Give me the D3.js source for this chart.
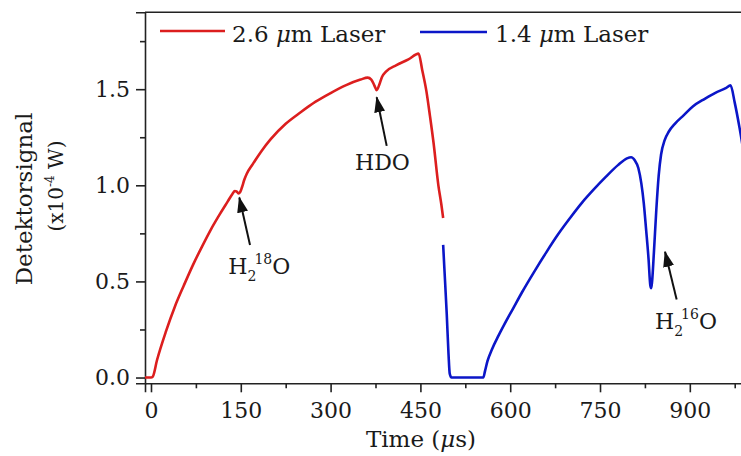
<!DOCTYPE html>
<html>
<head>
<meta charset="utf-8">
<script src="https://cdn.jsdelivr.net/npm/d3@7/dist/d3.min.js"></script>
<style>
  html, body { margin: 0; padding: 0; background: #fff; }
  svg { display: block; }
  text { font-family: "DejaVu Serif", "Liberation Serif", serif; fill: #1a1a1a; }
</style>
</head>
<body>
<svg id="chart" width="741" height="456"></svg>
<script>
// Detector signal of the 2.6 µm laser scan (time in µs, signal in 1e-4 W)
const redTime = [-10, 0, 3, 10, 25, 40, 55, 70, 85, 100, 115, 128, 136, 140, 143, 146, 149, 152, 156, 160, 170, 185, 200, 225, 250, 275, 300, 325, 350, 362, 368, 373, 377, 381, 386, 392, 410, 430, 447, 453, 460, 466, 472, 480, 485, 488];
const redSignal = [0, 0, 0.005, 0.09, 0.24, 0.37, 0.48, 0.585, 0.68, 0.77, 0.85, 0.915, 0.955, 0.97, 0.968, 0.958, 0.965, 0.99, 1.03, 1.06, 1.11, 1.18, 1.24, 1.32, 1.38, 1.435, 1.48, 1.52, 1.55, 1.56, 1.55, 1.52, 1.495, 1.52, 1.565, 1.59, 1.625, 1.655, 1.685, 1.60, 1.49, 1.36, 1.22, 1.00, 0.90, 0.83];

// Detector signal of the 1.4 µm laser scan
const blueTime = [488, 490, 494, 497, 499, 502, 555, 558, 562, 570, 580, 590, 605, 620, 640, 660, 680, 700, 720, 740, 760, 780, 795, 802, 808, 814, 819, 823, 827, 831, 834, 835.5, 837, 840, 844, 848, 852, 858, 865, 875, 890, 905, 925, 945, 960, 968, 975, 983, 990];
const blueSignal = [0.69, 0.57, 0.33, 0.12, 0.02, 0, 0, 0.035, 0.085, 0.15, 0.215, 0.275, 0.36, 0.445, 0.55, 0.65, 0.745, 0.83, 0.91, 0.98, 1.045, 1.105, 1.14, 1.146, 1.13, 1.09, 1.01, 0.91, 0.77, 0.62, 0.48, 0.465, 0.50, 0.65, 0.87, 1.05, 1.16, 1.235, 1.28, 1.32, 1.365, 1.41, 1.45, 1.485, 1.505, 1.52, 1.43, 1.30, 1.17];

// Axis ticks
const xMajorTicks = [0, 150, 300, 450, 600, 750, 900];
const xMinorTicks = [75, 225, 375, 525, 675, 825, 975];
const yMajorTicks = [0, 0.5, 1.0, 1.5];
const yMinorTicks = [0.25, 0.75, 1.25, 1.75];

// Series labels
const seriesNames = ["2.6 μm Laser", "1.4 μm Laser"];

// Absorption line markers: arrow tip, arrow tail, label anchor (time, signal)
const lineNames = ["H2 18O", "HDO", "H2 16O"];
const arrowTip = [[147.5, 0.937], [377, 1.458], [858.6, 0.654]];
const arrowTail = [[165.4, 0.689], [393.7, 1.205], [878, 0.406]];
const labelAt = [[129.2, 0.54], [340.7, 1.08], [841.8, 0.255]];

const RED = "#dc1e1e";
const BLUE = "#0b16c8";
const AXIS = "#222";

const svg = d3.select("#chart");

const plotLeft = 145, plotTop = 12.3, plotBottom = 383.3;
const pxPerUs = 0.5987;
const x = d3.scaleLinear().domain([-10, 1010]).range([plotLeft, plotLeft + 1020 * pxPerUs]);
const y = d3.scaleLinear().domain([-0.03, 1.9]).range([plotBottom, plotTop]);
const plotRight = x(1010);

const defs = svg.append("defs");
defs.append("clipPath").attr("id", "plotClip")
  .append("rect").attr("x", plotLeft).attr("y", plotTop)
  .attr("width", plotRight - plotLeft).attr("height", plotBottom - plotTop);

// frame: top and right borders
svg.append("path")
  .attr("d", `M${plotLeft},${plotTop}H${plotRight}V${plotBottom}`)
  .attr("fill", "none").attr("stroke", AXIS).attr("stroke-width", 1.6);

// x axis
svg.append("g").attr("transform", `translate(0,${plotBottom})`)
  .call(d3.axisBottom(x).tickValues(xMajorTicks).tickSize(9).tickPadding(10).tickFormat(d3.format("d")));
svg.append("g").attr("transform", `translate(0,${plotBottom})`)
  .call(d3.axisBottom(x).tickValues(xMinorTicks).tickSize(5).tickFormat(""))
  .call(g => g.select(".domain").remove());

// y axis
svg.append("g").attr("transform", `translate(${plotLeft},0)`)
  .call(d3.axisLeft(y).tickValues(yMajorTicks).tickSize(9).tickPadding(6).tickFormat(d3.format(".1f")));
svg.append("g").attr("transform", `translate(${plotLeft},0)`)
  .call(d3.axisLeft(y).tickValues(yMinorTicks).tickSize(5).tickFormat(""))
  .call(g => g.select(".domain").remove());

svg.selectAll(".tick line").attr("stroke", AXIS).attr("stroke-width", 1.6);
svg.selectAll(".domain").attr("stroke", AXIS).attr("stroke-width", 1.6);
svg.selectAll(".tick text")
  .attr("font-family", "DejaVu Serif, serif").attr("font-size", 22).attr("fill", "#1a1a1a");

// axis titles
const xt = svg.append("text").attr("x", 421).attr("y", 447)
  .attr("text-anchor", "middle").attr("font-size", 23);
xt.append("tspan").text("Time (");
xt.append("tspan").attr("font-style", "italic").text("μ");
xt.append("tspan").text("s)");

svg.append("text")
  .attr("transform", "translate(32,199) rotate(-90)")
  .attr("text-anchor", "middle").attr("font-size", 23)
  .text("Detektorsignal");
const yt2 = svg.append("text")
  .attr("transform", "translate(63,186) rotate(-90)")
  .attr("text-anchor", "middle").attr("font-size", 20);
yt2.append("tspan").text("(x10");
yt2.append("tspan").attr("font-size", 12).attr("dy", -9).text("-4");
yt2.append("tspan").attr("dy", 9).text(" W)");

// data lines
const line = d3.line().x(d => x(d[0])).y(d => y(d[1])).curve(d3.curveMonotoneX);
const plot = svg.append("g").attr("clip-path", "url(#plotClip)");
plot.append("path")
  .datum(d3.zip(redTime, redSignal))
  .attr("d", line).attr("fill", "none").attr("stroke", RED)
  .attr("stroke-width", 2.6).attr("stroke-linejoin", "round");
plot.append("path")
  .datum(d3.zip(blueTime, blueSignal))
  .attr("d", line).attr("fill", "none").attr("stroke", BLUE)
  .attr("stroke-width", 2.6).attr("stroke-linejoin", "round");

// legend
const legend = [
  { name: seriesNames[0], color: RED, x0: 160, x1: 225, ly: 31, tx: 232 },
  { name: seriesNames[1], color: BLUE, x0: 420, x1: 487, ly: 32, tx: 495 }
];
legend.forEach(l => {
  svg.append("line").attr("x1", l.x0).attr("x2", l.x1).attr("y1", l.ly).attr("y2", l.ly)
    .attr("stroke", l.color).attr("stroke-width", 2.6);
  const t = svg.append("text").attr("x", l.tx).attr("y", 42).attr("font-size", 23);
  const [num, rest] = l.name.split(" μ");
  t.append("tspan").text(num + " ");
  t.append("tspan").attr("font-style", "italic").text("μ");
  t.append("tspan").text(rest);
});

// arrowheads
defs.append("marker")
  .attr("id", "head").attr("viewBox", "0 0 16 11")
  .attr("refX", 15).attr("refY", 5.5)
  .attr("markerUnits", "userSpaceOnUse")
  .attr("markerWidth", 16).attr("markerHeight", 11)
  .attr("orient", "auto")
  .append("path").attr("d", "M0,0L16,5.5L0,11Z").attr("fill", "#111");

lineNames.forEach((name, i) => {
  svg.append("line")
    .attr("x1", x(arrowTail[i][0])).attr("y1", y(arrowTail[i][1]))
    .attr("x2", x(arrowTip[i][0])).attr("y2", y(arrowTip[i][1]))
    .attr("stroke", "#111").attr("stroke-width", 2)
    .attr("marker-end", "url(#head)");
  const t = svg.append("text")
    .attr("x", x(labelAt[i][0])).attr("y", y(labelAt[i][1]))
    .attr("font-size", 22);
  if (name.startsWith("H2 ")) {
    const iso = name.split(" ")[1].replace("O", "");
    t.append("tspan").text("H");
    t.append("tspan").attr("font-size", 14).attr("dy", 7).text("2");
    t.append("tspan").attr("font-size", 14).attr("dy", -17).attr("dx", -2).text(iso);
    t.append("tspan").attr("dy", 10).text("O");
  } else {
    t.text(name);
  }
});
</script>
</body>
</html>
